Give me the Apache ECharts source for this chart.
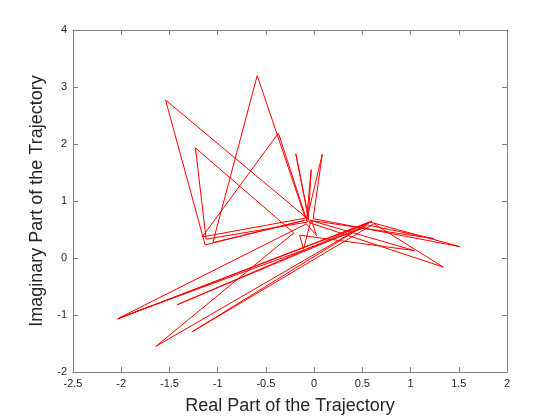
<!DOCTYPE html>
<html>
<head>
<meta charset="utf-8">
<script src="https://cdn.jsdelivr.net/npm/echarts@6/dist/echarts.min.js"></script>
<style>
  html, body { margin: 0; padding: 0; background: #fff; }
  #chart { width: 560px; height: 420px; }
</style>
</head>
<body>
<div id="chart"></div>
<script>
// trajectory points (real part, imaginary part)
const realPart = [
  -0.06, -1.54, -1.13, -0.10, -1.05, -0.59, -0.09, -1.16, -0.37, -0.07,
  -1.12, -1.23, -0.21, -1.64, 0.60, -2.04, 0.57, -1.26, 0.62, 1.34,
  -0.05, -0.19, -0.06, -0.03, -0.08, 0.085, -0.01, 1.51, 0.58, -1.42,
  0.55, 1.24, -0.04, 1.04, -0.15, -0.11, -0.03, 0.026, -0.08, -2.02,
  0.55
];
const imagPart = [
  0.68, 2.77, 0.23, 0.66, 0.27, 3.20, 0.70, 0.37, 2.19, 0.63,
  0.33, 1.93, 0.44, -1.55, 0.65, -1.07, 0.62, -1.29, 0.60, -0.16,
  0.62, 1.83, 0.72, 1.55, 0.65, 1.82, 0.69, 0.20, 0.63, -0.82,
  0.58, 0.34, 0.66, 0.13, 0.40, 0.16, 0.67, 0.39, 0.60, -1.05,
  0.55
];
const xTicks = [-2.5, 2, 0.5];
const yTicks = [-2, 4, 1];

const points = realPart.map((x, i) => [x, imagPart[i]]);

const chart = echarts.init(document.getElementById('chart'), null, { renderer: 'canvas' });

const axisColor = '#262626';
const boxColor = '#808080';
const font = 'Helvetica, Arial, "Liberation Sans", sans-serif';

function baseAxis(isX, show, pos) {
  return {
    type: 'value',
    position: pos,
    min: isX ? xTicks[0] : yTicks[0],
    max: isX ? xTicks[1] : yTicks[1],
    interval: isX ? xTicks[2] : yTicks[2],
    axisLine: { show: true, onZero: false, lineStyle: { color: boxColor, width: 1 } },
    axisTick: { show: true, inside: true, length: 5, lineStyle: { color: boxColor } },
    splitLine: { show: false },
    axisLabel: {
      show: show,
      color: axisColor,
      fontFamily: font,
      fontSize: 11,
      margin: 6
    }
  };
}

chart.setOption({
  animation: false,
  backgroundColor: '#fff',
  grid: { left: 73, right: 53, top: 30, bottom: 46, containLabel: false },
  xAxis: [
    Object.assign(baseAxis(true, true, 'bottom'), {
      name: 'Real Part of the Trajectory',
      nameLocation: 'middle',
      nameGap: 25,
      nameTextStyle: { color: axisColor, fontFamily: font, fontSize: 18 }
    }),
    baseAxis(true, false, 'top')
  ],
  yAxis: [
    Object.assign(baseAxis(false, true, 'left'), {
      name: 'Imaginary Part of the Trajectory',
      nameLocation: 'middle',
      nameGap: 24,
      nameTextStyle: { color: axisColor, fontFamily: font, fontSize: 18 }
    }),
    baseAxis(false, false, 'right')
  ],
  series: [
    {
      type: 'line',
      data: points,
      showSymbol: false,
      lineStyle: { color: '#ff0000', width: 1 },
      itemStyle: { color: '#ff0000' }
    }
  ]
});
</script>
</body>
</html>
